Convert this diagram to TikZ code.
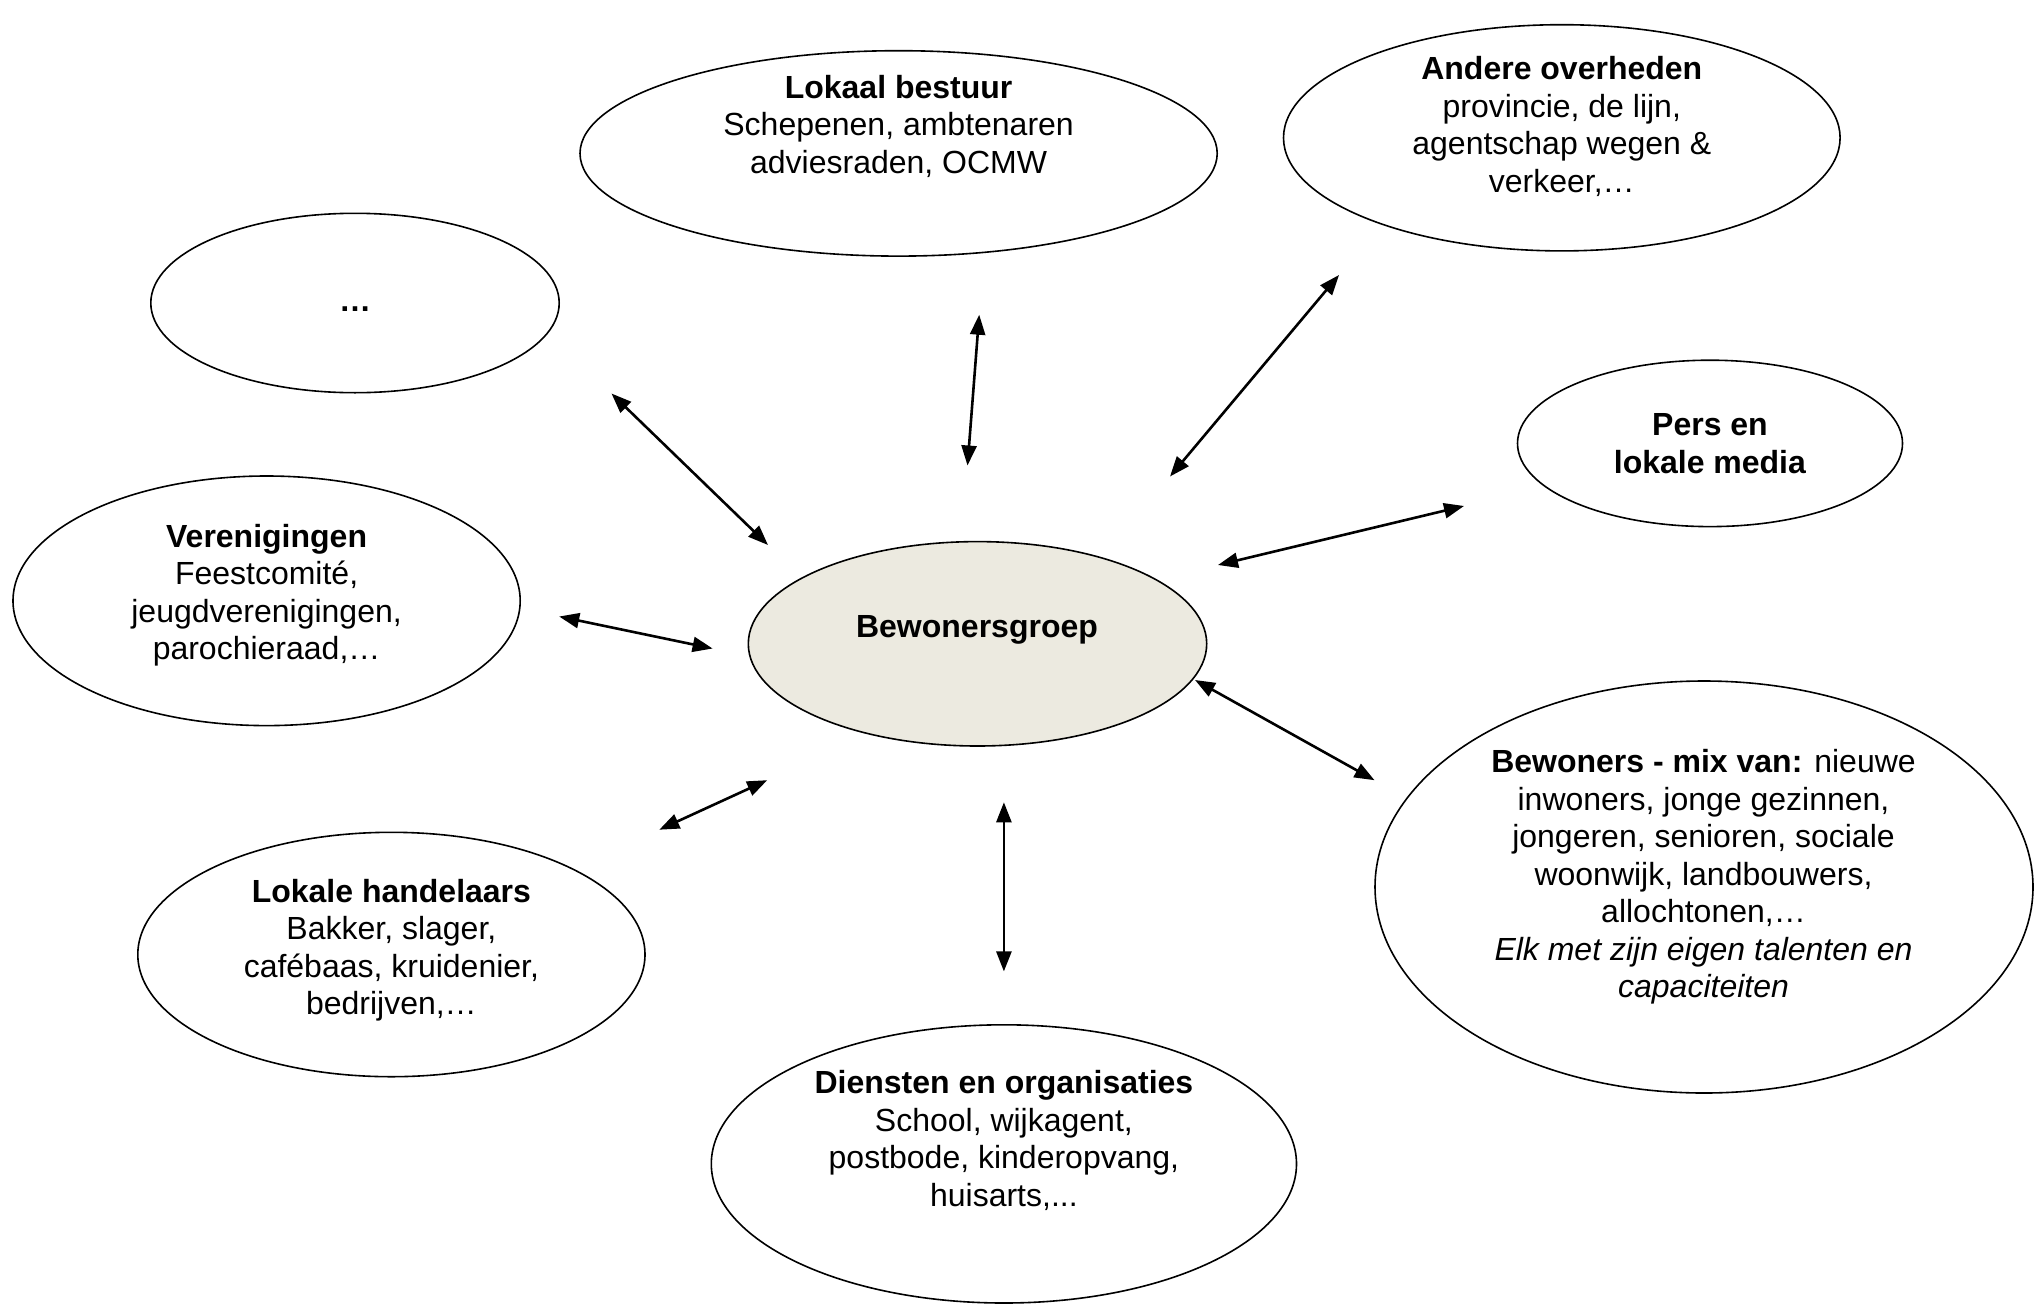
\documentclass[tikz,border=0pt]{standalone}
\usepackage{fontspec}
\setmainfont{Liberation Sans}
\usetikzlibrary{arrows.meta,shapes.geometric}
\definecolor{groupfill}{HTML}{ECEAE0}
\tikzset{
  bubble/.style={ellipse, draw=black, line width=0.8pt, inner sep=0pt, fill=white},
  txt/.style={align=center, font=\fontsize{16}{18.75}\selectfont, inner sep=0pt},
  link/.style={{Triangle[length=10pt,width=7.5pt]}-{Triangle[length=10pt,width=7.5pt]}, line width=1.3pt},
}
\begin{document}
\begin{tikzpicture}[x=0.5pt,y=-0.5pt]
\useasboundingbox (0,0) rectangle (2039,1306);
% ellipses
\node[bubble, minimum width=318.6pt, minimum height=102.7pt] (lokaal) at (898.6,153.4) {};
\node[bubble, minimum width=278.3pt, minimum height=113.1pt] (andere) at (1561.8,137.8) {};
\node[bubble, minimum width=204.2pt, minimum height=89.7pt] (dots) at (355,303) {};
\node[bubble, minimum width=192.5pt, minimum height=83.2pt] (pers) at (1710,443.4) {};
\node[bubble, minimum width=253.6pt, minimum height=124.8pt] (veren) at (266.6,600.8) {};
\node[bubble, fill=groupfill, minimum width=229.2pt, minimum height=102.2pt] (groep) at (977.5,643.8) {};
\node[bubble, minimum width=329pt, minimum height=206pt] (mix) at (1704,887) {};
\node[bubble, minimum width=253.6pt, minimum height=122.2pt] (handel) at (391.4,954.5) {};
\node[bubble, minimum width=292.6pt, minimum height=139.1pt] (diensten) at (1003.9,1163.9) {};
% texts
\node[txt] (lokaal-t) at (898.6,126) {\textbf{Lokaal bestuur}\\Schepenen, ambtenaren\\adviesraden, OCMW};
\node[txt] (andere-t) at (1561.8,126.5) {\textbf{Andere overheden}\\provincie, de lijn,\\agentschap wegen \&\\verkeer,…};
\node[txt] (dots-t) at (355,309.5) {\textbf{…}};
\node[txt] (pers-t) at (1710,443.4) {\textbf{Pers en}\\\textbf{lokale media}};
\node[txt] (veren-t) at (266.6,595) {\textbf{Verenigingen}\\Feestcomité,\\jeugdverenigingen,\\parochieraad,…};
\node[txt] (groep-t) at (977,630) {\textbf{Bewonersgroep}};
\node[txt] (mix-t) at (1703.5,877.1) {\textbf{Bewoners - mix van:} nieuwe\\inwoners, jonge gezinnen,\\jongeren, senioren, sociale\\woonwijk, landbouwers,\\allochtonen,…\\\textit{Elk met zijn eigen talenten en}\\\textit{capaciteiten}};
\node[txt] (handel-t) at (391.4,950) {\textbf{Lokale handelaars}\\Bakker, slager,\\cafébaas, kruidenier,\\bedrijven,…};
\node[txt] (diensten-t) at (1003.9,1140.5) {\textbf{Diensten en organisaties}\\School, wijkagent,\\postbode, kinderopvang,\\huisarts,...};
% arrow ends
\coordinate (a1) at (611.5,393.5);  \coordinate (a2) at (768,545);
\coordinate (b1) at (979.2,314.7);  \coordinate (b2) at (967.5,465.5);
\coordinate (c1) at (1339,275);     \coordinate (c2) at (1170,476.5);
\coordinate (d1) at (1464,506);     \coordinate (d2) at (1218,565);
\coordinate (e1) at (559.2,616.5);  \coordinate (e2) at (712.6,648.5);
\coordinate (f1) at (1195,680);     \coordinate (f2) at (1374.5,780.2);
\coordinate (g1) at (767.2,780.2);  \coordinate (g2) at (659.3,829.7);
\coordinate (h1) at (1003.9,802.3); \coordinate (h2) at (1003.9,971.4);
\draw[link] (a1) -- (a2);
\draw[link] (b1) -- (b2);
\draw[link] (c1) -- (c2);
\draw[link] (d1) -- (d2);
\draw[link] (e1) -- (e2);
\draw[link] (f1) -- (f2);
\draw[link] (g1) -- (g2);
\draw[link] (h1) -- (h2);
\end{tikzpicture}
\end{document}
